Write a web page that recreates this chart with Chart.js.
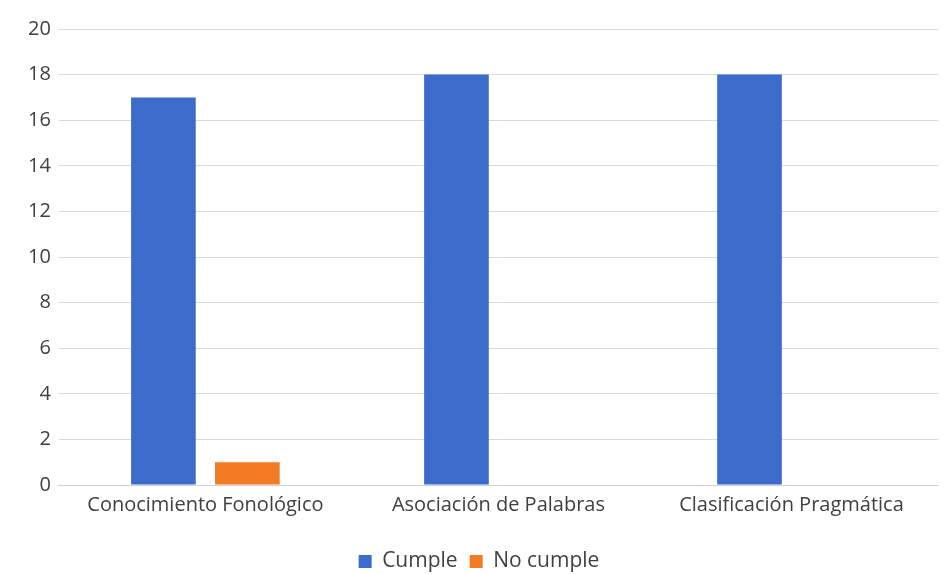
<!DOCTYPE html>
<html>
<head>
<meta charset="utf-8">
<script src="https://cdn.jsdelivr.net/npm/chart.js@4/dist/chart.umd.min.js"></script>
<style>
  html, body { margin: 0; padding: 0; background: #fff; }
  #wrap { width: 944px; height: 574px; position: relative; }
  #wrap canvas { position: absolute; left: 0; top: 0; }
</style>
</head>
<body>
<div id="wrap"><canvas id="resultChart" width="944" height="574"></canvas></div>
<script>
// categorías y series
const categories = ['Conocimiento Fonológico', 'Asociación de Palabras', 'Clasificación Pragmática'];
const cumple = [17, 18, 18];
const noCumple = [1, 0, 0];
const yTicks = [0, 2, 4, 6, 8, 10, 12, 14, 16, 18, 20];

const fontFamily = '"Open Sans", sans-serif';

// baja un poco la leyenda hacia el borde inferior
const legendShift = {
    id: 'legendShift',
    afterLayout(chart) {
        const lg = chart.legend;
        if (!lg) return;
        lg.top += 8;
        lg.bottom += 8;
    }
};

new Chart(document.getElementById('resultChart'), {
    type: 'bar',
    data: {
        labels: categories,
        datasets: [{
            label: 'Cumple',
            data: cumple,
            backgroundColor: '#3b6bcb',
            categoryPercentage: 0.573,
            barPercentage: 0.77
        }, {
            label: 'No cumple',
            data: noCumple,
            backgroundColor: '#f27b24',
            categoryPercentage: 0.573,
            barPercentage: 0.77
        }]
    },
    options: {
        responsive: false,
        animation: false,
        layout: {
            padding: { top: 29, right: 6, left: 20, bottom: 0 }
        },
        plugins: {
            legend: {
                position: 'bottom',
                labels: {
                    boxWidth: 13,
                    boxHeight: 13,
                    padding: 12,
                    color: '#404040',
                    font: { family: fontFamily, size: 21 }
                }
            },
            tooltip: { enabled: false }
        },
        scales: {
            x: {
                grid: { display: false },
                border: { color: '#d0d0d0' },
                afterFit: axis => { axis.height += 14; },
                ticks: {
                    color: '#404040',
                    padding: 0,
                    font: { family: fontFamily, size: 20 }
                }
            },
            y: {
                min: 0,
                max: 20,
                afterBuildTicks: axis => {
                    axis.ticks = yTicks.map(v => ({ value: v }));
                },
                grid: { color: '#d9d9d9', drawTicks: false },
                border: { display: false },
                ticks: {
                    color: '#404040',
                    padding: 8,
                    font: { family: fontFamily, size: 20 }
                }
            }
        }
    },
    plugins: [legendShift]
});
</script>
</body>
</html>
